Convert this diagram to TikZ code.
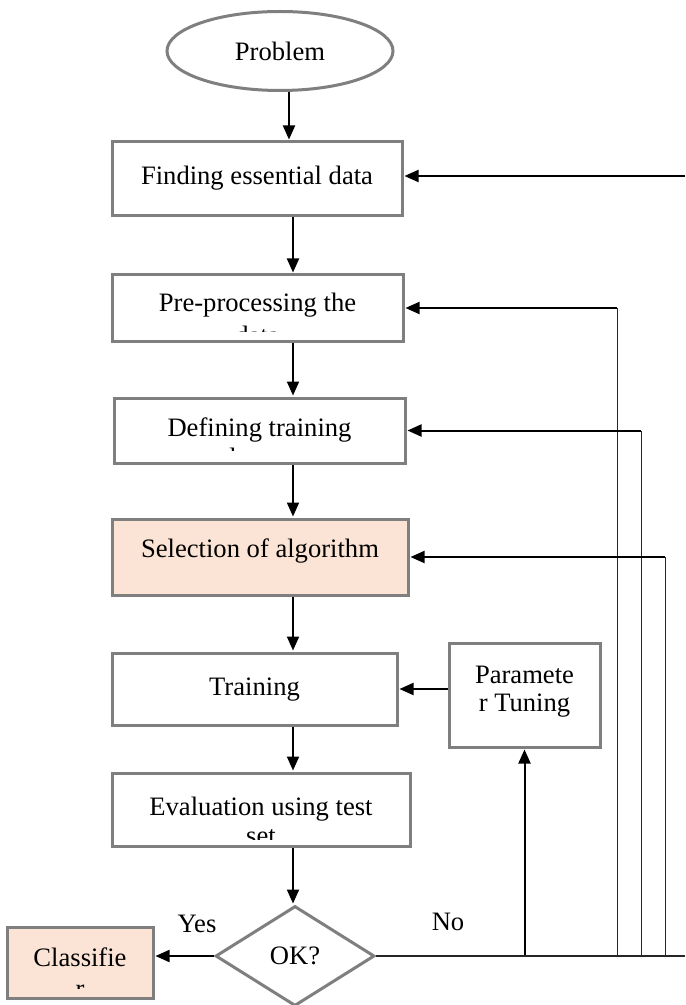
\documentclass[tikz,border=0pt]{standalone}
\usepackage{fontspec}
\setmainfont{Liberation Serif}
\usepackage{xcolor}
\usepackage{tikz}
\usetikzlibrary{
  shapes.geometric, arrows.meta, positioning, calc
}
\definecolor{boxgray}{HTML}{7F7F7F}
\definecolor{peach}{HTML}{FBE4D5}
\tikzset{
  %% Step box of the flow
  flowbox/.style={
    rectangle, draw=boxgray, fill=#1,
    line width=1.5pt, inner sep=0pt,
    text centered
  },
  flowbox/.default=white,
  %% One line of text, raised by a larger depth
  oneline/.style={text height=9pt, text depth=#1},
  oneline/.default=3pt,
  %% Second line, cut off above the lower edge
  cutline/.style n args={3}{
    path picture={
      \clip ([yshift=#3]path picture bounding box.south west)
        rectangle (path picture bounding box.north east);
      \node[draw=none, fill=none, inner sep=0pt, minimum size=0pt,
            anchor=base, yshift=#2]
        at (path picture bounding box.south) {#1};
    }
  },
  %% Arrow
  arr/.style={-{Triangle[length=7pt,width=6pt]},
              draw=black, line width=1pt, shorten >=0.5pt},
  %% Thin return line
  back/.style={draw=black!85, line width=0.5pt},
}

\begin{document}
\begin{tikzpicture}[x=0.5pt, y=-0.5pt,
                    every node/.style={font=\fontsize{13.3}{14}\selectfont}]

  \useasboundingbox (0,0) rectangle (685,1005);

  \node[ellipse, draw=boxgray, fill=white, line width=1.5pt,
        minimum width=113pt, minimum height=39.5pt, inner sep=0pt]
       (prob) at (280,51) {Problem};

  \node[flowbox, oneline, minimum width=145pt, minimum height=37pt]
       (find) at (257,179) {Finding essential data};

  \node[flowbox, oneline=5pt, minimum width=145.5pt, minimum height=33pt,
        cutline={data}{-1.5pt}{4.8pt}]
       (prep) at (257.5,308) {Pre-processing the};

  \node[flowbox, oneline, minimum width=145.5pt, minimum height=32.5pt,
        cutline={dataset}{-1.5pt}{6.2pt}]
       (defn) at (259.5,430.5) {Defining training};

  \node[flowbox=peach, oneline=9pt, minimum width=148pt, minimum height=38pt]
       (algo) at (260,557) {Selection of algorithm};

  \node[flowbox, oneline, minimum width=142.5pt, minimum height=36pt]
       (train) at (254.5,689) {Training};

  \node[flowbox, align=center, minimum width=75.5pt, minimum height=52pt,
        text depth=6pt]
       (param) at (524.5,695) {Paramete\\r Tuning};

  \node[flowbox, oneline, minimum width=149pt, minimum height=36.5pt,
        cutline={set}{1pt}{3.5pt}]
       (eval) at (261,809.5) {Evaluation using test};

  \node[diamond, draw=boxgray, fill=white, line width=1.5pt,
        minimum width=79.5pt, minimum height=50pt, inner sep=0pt]
       (ok) at (295,956) {OK?};

  \node[flowbox=peach, oneline=5.5pt, minimum width=73pt, minimum height=35.5pt,
        cutline={r}{0.5pt}{5pt}]
       (cls) at (80,962.5) {Classifie};

  \node (yes) at (197,924) {Yes};
  \node (no) at (448,922) {No};

  %% helper columns
  \coordinate (top) at (289,0);
  \coordinate (ax) at (293,0);
  \coordinate (re) at (685,176);
  \coordinate (v1) at (617,956);
  \coordinate (v2) at (641,956);
  \coordinate (v3) at (665,956);

  %% main flow
  \draw[arr] (prob.south -| top) -- (find.north -| top);
  \draw[arr] (find.south -| ax) -- (prep.north -| ax);
  \draw[arr] (prep.south -| ax) -- (defn.north -| ax);
  \draw[arr] (defn.south -| ax) -- (algo.north -| ax);
  \draw[arr] (algo.south -| ax) -- (train.north -| ax);
  \draw[arr] (train.south -| ax) -- (eval.north -| ax);
  \draw[arr] (eval.south -| ax) -- (ok.north -| ax);
  \draw[arr] (ok.west) -- (ok.west -| cls.east);

  %% tuning loop
  \draw[arr] (param.west |- train.east) -- (train.east);
  \draw[arr] (ok.east -| param.south) -- (param.south);

  %% return lines
  \draw[back, line width=0.75pt] (ok.east) -- (ok.east -| re);
  \draw[back] (v1) -- (v1 |- prep.east);
  \draw[arr] (v1 |- prep.east) -- (prep.east);
  \draw[back] (v2) -- (v2 |- defn.east);
  \draw[arr] (v2 |- defn.east) -- (defn.east);
  \draw[back] (v3) -- (v3 |- algo.east);
  \draw[arr] (v3 |- algo.east) -- (algo.east);
  \draw[arr] (re) -- (re -| find.east);

\end{tikzpicture}
\end{document}
